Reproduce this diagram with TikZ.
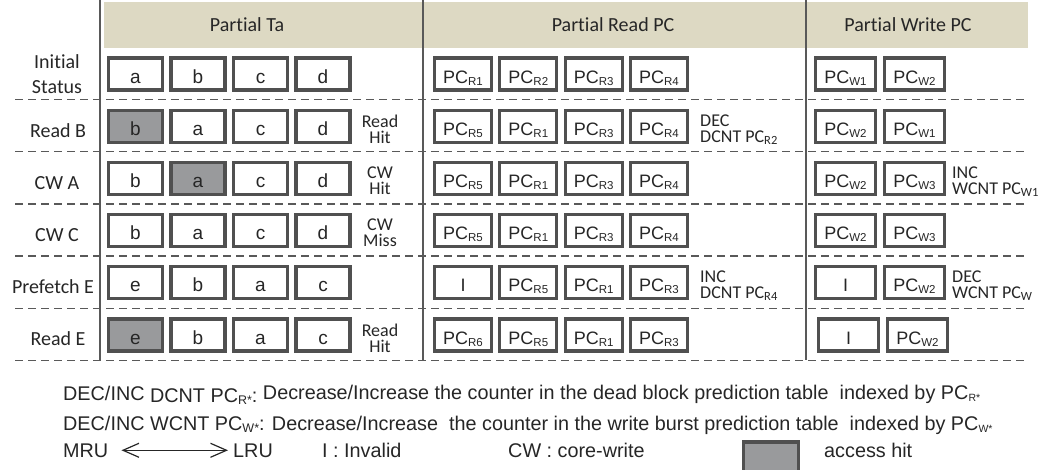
\documentclass[tikz,border=0pt]{standalone}
\usepackage{fontspec}
\setmainfont{Liberation Sans}
\newfontfamily\calfont{Carlito}[Ligatures=NoCommon]
\usetikzlibrary{arrows.meta}
\definecolor{boxgray}{HTML}{505050}
\definecolor{hitgray}{HTML}{999A9C}
\definecolor{headtan}{HTML}{DDD9C3}
\definecolor{rulegray}{HTML}{595959}
\definecolor{ink}{HTML}{262626}
\tikzset{
  slot/.style = {draw=boxgray, line width=3.2pt, inner sep=0pt, minimum height=32pt, text height=18pt, text depth=0pt, text=ink},
  ta/.style = {slot, minimum width=54pt, font=\fontsize{19}{19}\selectfont},
  readpc/.style = {slot, minimum width=57pt, font=\fontsize{18}{18}\selectfont},
  writepc/.style = {slot, minimum width=60pt, font=\fontsize{18}{18}\selectfont},
  head/.style = {text=ink, font=\calfont\fontsize{20}{20}\selectfont},
  rowname/.style = {text=ink, align=center, font=\calfont\fontsize{20}{25}\selectfont},
  note/.style = {text=ink, inner sep=0pt, font=\calfont\fontsize{18}{16}\selectfont},
  legend/.style = {text=ink, inner sep=0pt, anchor=base west, font=\fontsize{19.8}{19.8}\selectfont},
  sep/.style = {draw=rulegray, line width=1.3pt, dash pattern=on 8pt off 5pt},
  rule/.style = {draw=rulegray, line width=1.2pt},
  lru/.style = {draw=ink, line width=1.2pt, {Straight Barb[length=16pt,width=14pt]}-{Straight Barb[length=16pt,width=14pt]}}
}
\newcommand{\pc}[2][11.5]{PC\raisebox{-2pt}{\fontsize{#1}{#1}\selectfont #2}}
\newcommand{\slotRow}[5]{%
  % #1: name prefix (e.g. T2)
  % #2: box style
  % #3: centre of the first box
  % #4: pitch of the boxes
  % #5: list of text/fill pairs
  \foreach \txt/\fc [count=\i] in {#5} {
    \path (#3) ++({(\i-1)*#4},0) node[#2, fill=\fc] (#1-\i) {\txt};
  }
}

\begin{document}
\begin{tikzpicture}[x=1pt, y=-1pt]

    \useasboundingbox (0,0) rectangle (1044,469);

    % Header
    \fill[headtan] (104,2) rectangle (1028,48);
    \node[head] (hTa) at (247,25) {Partial Ta};
    \node[head] (hRead) at (613,25) {Partial Read PC};
    \node[head] (hWrite) at (908,25) {Partial Write PC};

    % Grid
    \draw[rule] (100,0) -- (100,360);
    \draw[rule] (423,0) -- (423,360);
    \draw[rule] (806,0) -- (806,360);
    \foreach \y in {99.5,151.7,203.9,256.1,308.3,360.5}
      \draw[sep] (15,\y) -- (1028,\y);

    % Initial Status
    \node[rowname] (s1) at (57,74) {Initial\\Status};
    \slotRow{T1}{ta}{135.5,74}{62.5}{a/white, b/white, c/white, d/white}
    \slotRow{R1}{readpc}{463,74}{65.3}{\pc{R1}/white, \pc{R2}/white, \pc{R3}/white, \pc{R4}/white}
    \slotRow{W1}{writepc}{845.5,74}{69}{\pc{W1}/white, \pc{W2}/white}

    % Read B
    \node[rowname] (s2) at (58,131) {Read B};
    \slotRow{T2}{ta}{135.5,126.2}{62.5}{b/hitgray, a/white, c/white, d/white}
    \slotRow{R2}{readpc}{463,126.2}{65.3}{\pc{R5}/white, \pc{R1}/white, \pc{R3}/white, \pc{R4}/white}
    \slotRow{W2}{writepc}{845.5,126.2}{69}{\pc{W2}/white, \pc{W1}/white}
    \node[note, align=center] (nT2) at (380,129) {Read\\Hit};
    \node[note, align=left, anchor=west] (nR2) at (700,130) {DEC\\DCNT \pc[12.5]{R2}};

    % CW A
    \node[rowname] (s3) at (57,183) {CW A};
    \slotRow{T3}{ta}{135.5,178.4}{62.5}{b/white, a/hitgray, c/white, d/white}
    \slotRow{R3}{readpc}{463,178.4}{65.3}{\pc{R5}/white, \pc{R1}/white, \pc{R3}/white, \pc{R4}/white}
    \slotRow{W3}{writepc}{845.5,178.4}{69}{\pc{W2}/white, \pc{W3}/white}
    \node[note, align=center] (nT3) at (380,181) {CW\\Hit};
    \node[note, align=left, anchor=west] (nW3) at (952,182) {INC\\WCNT \pc[12.5]{W1}};

    % CW C
    \node[rowname] (s4) at (57,235) {CW C};
    \slotRow{T4}{ta}{135.5,230.6}{62.5}{b/white, a/white, c/white, d/white}
    \slotRow{R4}{readpc}{463,230.6}{65.3}{\pc{R5}/white, \pc{R1}/white, \pc{R3}/white, \pc{R4}/white}
    \slotRow{W4}{writepc}{845.5,230.6}{69}{\pc{W2}/white, \pc{W3}/white}
    \node[note, align=center] (nT4) at (380,233) {CW\\Miss};

    % Prefetch E
    \node[rowname] (s5) at (53,287) {Prefetch E};
    \slotRow{T5}{ta}{135.5,282.8}{62.5}{e/white, b/white, a/white, c/white}
    \slotRow{R5}{readpc}{463,282.8}{65.3}{I/white, \pc{R5}/white, \pc{R1}/white, \pc{R3}/white}
    \slotRow{W5}{writepc}{845.5,282.8}{69}{I/white, \pc{W2}/white}
    \node[note, align=left, anchor=west] (nR5) at (700,286) {INC\\DCNT \pc[12.5]{R4}};
    \node[note, align=left, anchor=west] (nW5) at (952,286) {DEC\\WCNT \pc[12.5]{W}};

    % Read E
    \node[rowname] (s6) at (58,339) {Read E};
    \slotRow{T6}{ta}{135.5,335}{62.5}{e/hitgray, b/white, a/white, c/white}
    \slotRow{R6}{readpc}{463,335}{65.3}{\pc{R6}/white, \pc{R5}/white, \pc{R1}/white, \pc{R3}/white}
    \slotRow{W6}{writepc}{848.5,335}{69}{I/white, \pc{W2}/white}
    \node[note, align=center] (nT6) at (380,338) {Read\\Hit};

    % Legend
    \node[legend] (lgR) at (63,400) {DEC/INC \raisebox{-2pt}{DCNT \pc[12.5]{R*}:} \raisebox{1pt}{Decrease/Increase the counter in the dead block prediction table\ \ indexed by \pc[10.5]{R*}}};
    \node[legend] (lgW) at (63,430) {DEC/INC WCNT \pc[12.5]{W*}: Decrease/Increase\ \ the counter in the write burst prediction table\ \ indexed by \pc[10.5]{W*}};
    \node[legend] (mru) at (63,457) {MRU};
    \node[legend] (lruText) at (233,457) {LRU};
    \draw[lru, shorten <=13pt, shorten >=5pt] (mru) -- (lruText);
    \node[legend] (inv) at (322,457) {I : Invalid};
    \node[legend] (cw) at (508,457) {CW : core-write};
    \node[draw=boxgray, line width=3.2pt, fill=hitgray, minimum width=55pt, minimum height=40pt, inner sep=0pt] (hitKey) at (771,462) {};
    \node[legend] (hitText) at (824,457) {access hit};

\end{tikzpicture}
\end{document}
